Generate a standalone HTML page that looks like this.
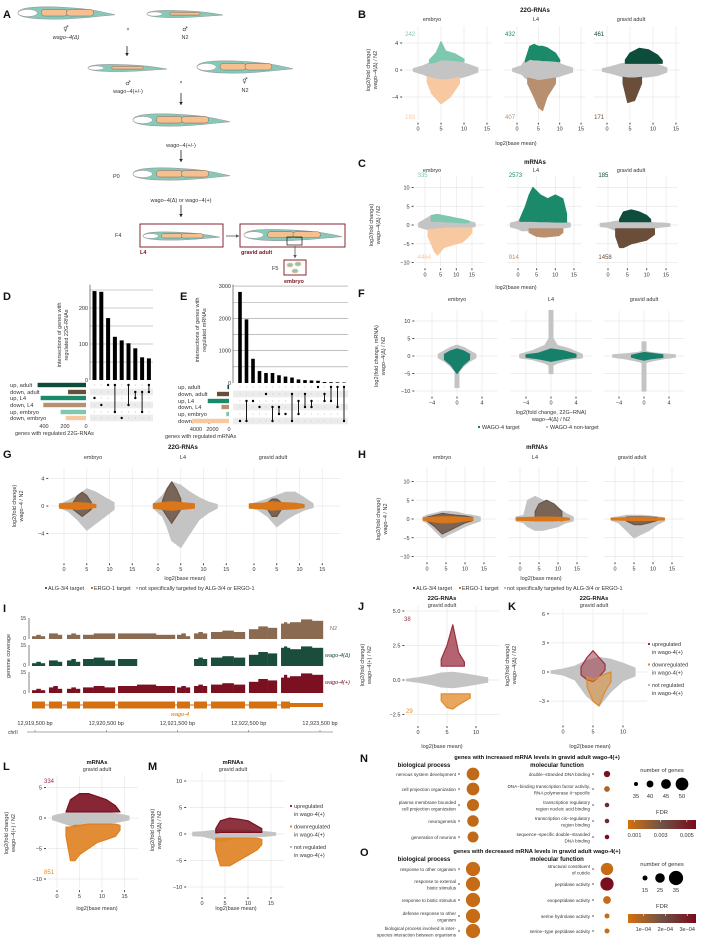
<!DOCTYPE html>
<html><head><meta charset="utf-8">
<style>
html,body{margin:0;padding:0;background:#fff;}
svg{display:block;font-family:"Liberation Sans",sans-serif;}
</style></head>
<body>
<svg id="fig" width="709" height="945" viewBox="0 0 709 945" xmlns="http://www.w3.org/2000/svg">
<rect x="0" y="0" width="709" height="945" fill="#fff"/>
</svg>
<script>
// ---------------- DATA ----------------
const dBarValues = [247,245,172,120,110,102,88,63,60];
const dSetLabels = ["up, adult","down, adult","up, L4","down, L4","up, embryo","down, embryo"];
const dSetSizes = [461,171,432,407,242,193];
const dCombos = [[2],[3],[0],[0,4],[5],[0,3],[1,2],[1,4],[0,1]];
const dYTicks = [0,100,200];
const eBarValues = [2820,1970,750,370,310,310,240,200,170,110,90,80,70,30,25,20,15];
const eSetSizes = [185,1458,2573,914,335,4464];
const eCombos = [[5],[2,5],[2],[3],[1],[3,5],[3,4],[4],[1,5],[2,4],[1,3],[2,3],[0],[1,2],[0,2],[0,3],[0,5]];
const eYTicks = [0,1000,2000,3000];
const setColors = ["#0e4d3c","#6b4e3a","#1a8a6a","#b89070","#7fc8b0","#f8c8a0"];

const maXTicks = [0,5,10,15];
const bYTicks = [-4,0,4];
const cYTicks = [-10,-5,0,5,10];
const fXTicks = [-4,0,4];
const bCounts = [["242","193"],["432","407"],["461","171"]];
const cCounts = [["335","4464"],["2573","914"],["185","1458"]];

const bLayers = [
 {gray:{xs:[-1,1,3,5,7,9,11,13],hi:[0.2,0.6,1.2,1.6,1.5,1.2,0.8,0.3],lo:[-0.2,-0.6,-1.2,-1.6,-1.5,-1.2,-0.8,-0.3]},
  up:{xs:[2.5,4,5,6,8,10],hi:[1.5,2.6,4.2,2.8,2.4,1.6],lo:[1,1.2,1.5,1.5,1.4,1.2]},
  down:{xs:[2,3,5,7,9],hi:[-1,-1.2,-1.5,-1.4,-1.1],lo:[-1.8,-3.5,-5,-4,-2]}},
 {gray:{xs:[-1,1,2,3,5,7,9,11,13],hi:[0.2,0.6,1.5,2.5,1.8,1.5,1.2,0.7,0.3],lo:[-0.2,-0.6,-1.2,-1.5,-1.6,-1.5,-1.1,-0.7,-0.3]},
  up:{xs:[2,3,4,5,6,7,9,10],hi:[1.5,3.5,3.8,3.5,3.5,3.3,2.5,1.5],lo:[1.2,1.6,1.5,1.5,1.4,1.4,1.3,1.2]},
  down:{xs:[2.5,4,5,6,7,9],hi:[-1.2,-1.4,-1.6,-1.5,-1.4,-1.2],lo:[-2,-4,-5.5,-6,-4,-2]}},
 {gray:{xs:[-1,1,3,5,7,9,11,13],hi:[0.2,0.5,0.9,1.1,1.1,1,0.8,0.3],lo:[-0.2,-0.5,-0.9,-1.1,-1.1,-1,-0.8,-0.3]},
  up:{xs:[4,5,7,9,11,12],hi:[1.5,2.5,3.2,3,2.2,1.4],lo:[1,1,1,1,1,1]},
  down:{xs:[3.5,4.5,6,7.5],hi:[-1.1,-1.2,-1.2,-1.1],lo:[-2,-4.8,-4.5,-2]}}
];
const cLayers = [
 {gray:{xs:[-2,0,2,4,6,8,10,12,14,16],hi:[0.5,1.5,2.5,2.8,2.5,2.2,1.8,1.5,1,0.5],lo:[-0.5,-1,-1.5,-1.2,-1,-1,-1,-0.8,-0.6,-0.4]},
  up:{xs:[2,4,6,8,10,12,14],hi:[2.5,2.8,2.4,2.1,1.8,1.5,1.1],lo:[1,1,0.9,0.8,0.7,0.6,0.6]},
  down:{xs:[1,2,3,4,6,8,10,12,14,15],hi:[-1.2,-1.3,-1.2,-1,-0.9,-0.8,-0.8,-0.8,-0.8,-0.8],lo:[-3,-5,-7,-8,-6,-5.5,-5,-4.5,-3,-2]}},
 {gray:{xs:[-2,0,1,2,4,6,8,10,12,14],hi:[0.5,1,2,4,3,1.5,1.2,1,0.8,0.5],lo:[-0.5,-1,-1.5,-1.5,-1.5,-1.3,-1,-1,-0.8,-0.5]},
  up:{xs:[0.5,2,3,4,6,8,10,12,13],hi:[1.5,5,8,10,8,7,8,7,3],lo:[1,1,1,1,0.9,0.9,0.8,0.8,0.8]},
  down:{xs:[3,5,7,9,11,12],hi:[-1,-1,-1,-1,-1,-1],lo:[-2,-3,-3.2,-3,-2.8,-2]}},
 {gray:{xs:[-2,0,2,4,6,8,10,12,14,16],hi:[0.4,0.6,1,1.2,1,0.9,0.8,0.6,0.5,0.3],lo:[-0.4,-0.6,-1.5,-2,-1.5,-1.2,-1,-0.8,-0.5,-0.3]},
  up:{xs:[3,4,6,8,10,11],hi:[1.5,3.5,4,3.5,2.5,1.5],lo:[0.9,0.9,0.9,0.9,0.9,0.9]},
  down:{xs:[2,3,4,6,8,10,12],hi:[-1,-1,-1,-1,-1,-1,-1],lo:[-3,-6,-6,-5,-4.5,-4,-2.5]}}
];
const fLayers = [
 {h:{xs:[-3,-2,-1,0,1,2,3],hi:[0.5,1.5,2.5,3,2.5,1.5,0.5],lo:[-0.5,-1.5,-3,-5,-3,-1.5,-0.5]},
  v:{xs:[-0.3,0.3],hi:[3,3],lo:[-9,-9]},
  g:{xs:[-2,-1,0,1,2],hi:[0.5,1.5,2,1.5,0.5],lo:[-1,-2.5,-5,-2.5,-1]}},
 {h:{xs:[-5,-3,-1,0,1,3,5],hi:[0.5,1.5,3,6,3,2,0.5],lo:[-0.5,-1,-2,-3,-2,-1,-0.5]},
  v:{xs:[-0.3,0.3],hi:[13,13],lo:[-5,-5]},
  g:{xs:[-4,-2,0,2,4],hi:[0.3,0.8,2,1.5,0.5],lo:[-0.3,-0.8,-1.5,-0.8,-0.3]}},
 {h:{xs:[-5,-3,-1,0,1,3,5],hi:[0.3,0.6,1,1.5,1,0.6,0.3],lo:[-0.3,-0.8,-1.5,-2,-1.5,-0.8,-0.3]},
  v:{xs:[-0.3,0.3],hi:[4,4],lo:[-10,-10]},
  g:{xs:[-2,-1,0,1,3],hi:[0.2,0.6,1,0.8,0.3],lo:[-0.3,-0.8,-1.2,-0.8,-0.4]}}
];
const gLayers = [
 {gray:{xs:[-1,1,3,5,7,9,11],hi:[0.2,0.8,1.5,2.5,2,1.2,0.5],lo:[-0.2,-0.8,-2,-3.5,-2.5,-1.5,-0.5]},
  alg:{xs:[2,3,4,5,6],hi:[0.5,1.5,2,1.5,0.5],lo:[-0.5,-1,-1.5,-1,-0.5]},
  ergo:{xs:[-1,1,3,5,7],hi:[0.3,0.4,0.5,0.4,0.2],lo:[-0.3,-0.4,-0.5,-0.4,-0.2]}},
 {gray:{xs:[-1,1,2,3,5,7,9,11,13],hi:[0.3,1.5,2.5,3.5,3,2,1.2,0.6,0.2],lo:[-0.3,-1.5,-3,-5,-6,-4,-2,-1,-0.3]},
  alg:{xs:[1,2,3,4,5],hi:[0.8,2.5,3.5,2.5,1],lo:[-0.5,-1.5,-2.5,-1.5,-0.5]},
  ergo:{xs:[-1,1,3,5,8],hi:[0.3,0.5,0.6,0.5,0.3],lo:[-0.3,-0.5,-0.6,-0.5,-0.3]}},
 {gray:{xs:[-1,1,3,5,7,9,11,13],hi:[0.2,0.6,1,1.5,2,2,1.2,0.3],lo:[-0.2,-0.6,-1.5,-3,-2,-1.2,-0.6,-0.2]},
  alg:{xs:[3,4,5,6],hi:[0.5,1,1,0.5],lo:[-0.5,-1.5,-1.5,-0.5]},
  ergo:{xs:[-1,2,4,6,9,11],hi:[0.3,0.4,0.6,0.5,0.4,0.2],lo:[-0.3,-0.4,-0.6,-0.5,-0.4,-0.2]}}
];
const hLayers = [
 {gray:{xs:[-1,0,2,4,6,8,10,12,14],hi:[0.5,1,1.5,2,2,1.8,1.2,1,0.5],lo:[-0.5,-1,-3,-5,-4,-3,-2,-1.2,-0.5]},
  alg:{xs:[0,2,4,6,8,10,12],hi:[0.5,1,1.5,1.2,1,0.8,0.4],lo:[-0.5,-2,-4,-3,-2,-1,-0.4]},
  ergo:{xs:[-1,2,4,6,8,10,12],hi:[0.3,0.5,0.6,0.6,0.5,0.4,0.3],lo:[-0.3,-0.8,-1,-1,-0.8,-0.5,-0.3]}},
 {gray:{xs:[-1,1,2,4,6,8,10,12,14],hi:[0.5,1,5,6,5,4,3,1.5,0.5],lo:[-0.5,-1,-2,-3,-3,-2.5,-2,-1,-0.5]},
  alg:{xs:[4,5,7,9,11],hi:[2,4,5,4,2],lo:[-0.5,0,0.5,0,-0.5]},
  ergo:{xs:[-1,2,5,8,11,13],hi:[0.3,0.4,0.5,0.5,0.4,0.2],lo:[-0.3,-0.4,-0.5,-0.5,-0.4,-0.2]}},
 {gray:{xs:[-1,1,3,5,7,9,11,13],hi:[0.3,0.6,1,1,1,0.8,0.6,0.3],lo:[-0.3,-1,-3,-5,-4,-3,-1.5,-0.5]},
  alg:{xs:[3,5,7,9,11],hi:[0.5,0.6,0.6,0.5,0.4],lo:[-0.5,-1.5,-1.5,-1,-0.4]},
  ergo:{xs:[-1,2,5,8,11,13],hi:[0.2,0.3,0.4,0.4,0.3,0.2],lo:[-0.2,-0.3,-0.4,-0.4,-0.3,-0.2]}}
];
const jLayers = {gray:{xs:[-2,0,2,4,6,8,10,12],hi:[0.05,0.15,0.3,0.5,0.55,0.45,0.3,0.15],lo:[-0.05,-0.15,-0.3,-0.5,-0.55,-0.45,-0.3,-0.15]},
  up:{xs:[4,5,6,7,8],hi:[1.5,2.5,4,2,1.3],lo:[1,1,1,1,1]},
  down:{xs:[4,5,6,7,9],hi:[-1,-1,-1,-1,-1],lo:[-1.5,-2,-2.1,-1.8,-1.3]}};
const kLayers = {gray:{xs:[-2,0,2,4,6,8,10,12],hi:[0.1,0.3,0.6,1.2,1.5,1.3,0.9,0.4],lo:[-0.1,-0.3,-0.8,-2.5,-3.5,-2,-0.9,-0.4]},
  up:{xs:[3,4,5,6,7],hi:[0.5,1.5,2.2,1.5,0.8],lo:[-0.3,-0.8,-1,-0.5,0.2]},
  down:{xs:[4,5,6,7,8],hi:[-0.5,-0.8,-0.5,-0.2,0],lo:[-1.5,-3,-3.5,-2,-1]}};
const lLayers = {gray:{xs:[-1,0,2,4,6,8,10,12,14,16],hi:[0.3,0.5,0.8,1,1,1,0.9,0.8,0.6,0.3],lo:[-0.3,-0.5,-1,-1.5,-1.2,-1,-0.9,-0.8,-0.6,-0.3]},
  up:{xs:[2,3,5,7,9,11,13,14],hi:[1,3,4,4,3.5,3,2,1],lo:[1,1,1,1,1,1,1,1]},
  down:{xs:[2,3,4,5,7,9,11,13,14],hi:[-1.5,-1.5,-1.2,-1.2,-1,-1,-1,-1,-1.2],lo:[-3,-7,-7,-6,-5,-4,-3.5,-3,-2]}};
const mLayers = {gray:{xs:[-2,0,2,4,6,8,10,12,14,16],hi:[0.3,0.4,0.6,0.8,0.8,0.8,0.7,0.5,0.4,0.2],lo:[-0.3,-0.4,-0.8,-1.5,-1,-0.8,-0.7,-0.5,-0.4,-0.2]},
  up:{xs:[3,4,6,8,10,12,13],hi:[1,2.5,3,2.8,2.5,1.5,1],lo:[0.2,0.3,0.3,0.3,0.3,0.3,0.3]},
  down:{xs:[3,4,6,8,10,12,13],hi:[-0.8,-0.8,-0.8,-0.8,-0.8,-0.8,-1],lo:[-3,-6,-6,-5,-4,-3,-2]}};

// genome track (bp)
const exonStarts = [12919458,12919696,12919949,12920174,12920665,12921493,12921732,12921970,12922503,12922953];
const exonEnds   = [12919640,12919879,12920132,12920623,12921465,12921675,12921914,12922447,12922896,12923079];
const utrEnd = 12923542;
const covN2    = [[2,3,2],[4,4,3],[3,4,3],[3,4,4],[4,4,3],[3,4,2],[4,5,4],[5,6,5],[7,9,8],[11,12,11]];
const covDelta = [[2,3,2],[4,4,3],[4,5,3],[5,6,4],[5,0,0],[0,0,0],[5,6,5],[6,7,6],[8,10,9],[13,14,13]];
const covPlus  = [[2,3,2],[4,5,3],[3,4,3],[4,5,4],[5,6,5],[4,5,4],[5,6,5],[6,7,6],[8,10,9],[11,13,11]];
const utrCov = [12,14,13];
const bpTicks = [12919500,12920500,12921500,12922500,12923500];

// GO enrichment
const nBPTerms = ["nervous system development","cell projection organization","plasma membrane bounded|cell projection organization","neurogenesis","generation of neurons"];
const nBPGenes = [50,50,49,48,47];
const nBPFdr = [0.001,0.001,0.001,0.001,0.001];
const nMFTerms = ["double−stranded DNA binding","DNA−binding transcription factor activity,|RNA polymerase II−specific","transcription regulatory|region nucleic acid binding","transcription cis−regulatory|region binding","sequence−specific double−stranded|DNA binding"];
const nMFGenes = [39,38,36,36,36];
const nMFFdr = [0.0055,0.0015,0.0045,0.0045,0.0055];
const oBPTerms = ["response to other organism","response to external|biotic stimulus","response to biotic stimulus","defense response to other|organism","biological process involved in inter-|species interaction between organisms"];
const oBPGenes = [35,35,35,35,35];
const oBPFdr = [0.00005,0.00005,0.00005,0.00005,0.00005];
const oMFTerms = ["structural constituent|of cuticle","peptidase activity","exopeptidase activity","serine hydrolase activity","serine−type peptidase activity"];
const oMFGenes = [31,33,21,15,15];
const oMFFdr = [0.00005,0.00033,0.00005,0.00005,0.00005];

// ---------------- HELPERS ----------------
const NS='http://www.w3.org/2000/svg';
const svg=document.getElementById('fig');
function mk(tag,attrs,parent){const e=document.createElementNS(NS,tag);for(const k in attrs)e.setAttribute(k,attrs[k]);(parent||svg).appendChild(e);return e;}
function grp(name,parent){const g=mk('g',{},parent);
 
 
 return g;}
function txt(x,y,s,o,parent,name){o=o||{};
 const e=mk('text',{x:x,y:y,'font-size':o.size||5.5,'text-anchor':o.anchor||'start',fill:o.fill||'#333'},parent);
 if(o.weight)e.setAttribute('font-weight',o.weight);
 if(o.italic)e.setAttribute('font-style','italic');
 if(o.family)e.setAttribute('font-family',o.family);
 if(o.rot)e.setAttribute('transform','rotate('+o.rot+' '+x+' '+y+')');
 e.textContent=s;
 
 
 return e;}
function fmt(v){return (v<0?'−':'')+Math.abs(v);}
function panel(c,name){
 const g=grp(name);
 const X=v=>c.x0+v*c.sx, Y=v=>c.y0-v*c.sy;
 const top=Y(c.ymax),bot=Y(c.ymin),l=X(c.xmin),r=X(c.xmax);
 c.xt.forEach(t=>{const ln=mk('line',{x1:X(t),x2:X(t),y1:top,y2:bot,stroke:'#e8e8e8','stroke-width':0.7},g);
  
  });
 c.yt.forEach(t=>{const ln=mk('line',{x1:l,x2:r,y1:Y(t),y2:Y(t),stroke:'#e8e8e8','stroke-width':0.7},g);
  
  });
 c.xt.forEach(t=>{const tk=mk('line',{x1:X(t),x2:X(t),y1:bot+2,y2:bot+4,stroke:'#333','stroke-width':0.9},g);
  
  
  txt(X(t),bot+10,fmt(t),{anchor:'middle'},g,'x-tick-label');});
 if(c.ylab!==false) c.yt.forEach(t=>{const tk=mk('line',{x1:l-4,x2:l-2,y1:Y(t),y2:Y(t),stroke:'#333','stroke-width':0.9},g);
  
  
  txt(l-6,Y(t)+2,c.ylabFmt?c.ylabFmt(t):fmt(t),{anchor:'end'},g,'y-tick-label');});
 return {X,Y,g};
}
function band(p,layer,color,name,op){
 const pts=[];
 layer.xs.forEach((x,i)=>pts.push(p.X(x).toFixed(1)+','+p.Y(layer.hi[i]).toFixed(1)));
 for(let i=layer.xs.length-1;i>=0;i--)pts.push(p.X(layer.xs[i]).toFixed(1)+','+p.Y(layer.lo[i]).toFixed(1));
 const e=mk('polygon',{points:pts.join(' '),fill:color,stroke:color,'stroke-width':1.2,'stroke-linejoin':'round','fill-opacity':op||1},p.g);
 
 
 return e;}
function yTitle(x,y,lines,parent){lines.forEach((s,i)=>txt(x+i*7,y,s,{anchor:'middle',rot:-90},parent,'y-axis-title'));}

// ---------------- PANEL A ----------------
function worm(x0,x1,yc,h,male,parent){
 const w=x1-x0,g=grp('worm',parent);
 const d=`M${x0},${yc} C${x0},${yc-h*0.6} ${x0+w*0.3},${yc-h*0.55} ${x0+w*0.5},${yc-h*0.45} C${x0+w*0.75},${yc-h*0.35} ${x1-w*0.1},${yc-h*0.05} ${x1},${yc+h*0.15} C${x1-w*0.1},${yc+h*0.2} ${x0+w*0.75},${yc+h*0.4} ${x0+w*0.5},${yc+h*0.5} C${x0+w*0.3},${yc+h*0.55} ${x0},${yc+h*0.5} ${x0},${yc} Z`;
 mk('path',{d:d,fill:'#86c9b9',stroke:'#999','stroke-width':0.6},g);
 mk('ellipse',{cx:x0+w*0.1,cy:yc,rx:w*0.1,ry:h*0.3,fill:'#fff',stroke:'#999','stroke-width':0.5},g);
 if(male){mk('rect',{x:x0+w*0.3,y:yc-h*0.25,width:w*0.4,height:h*0.4,rx:2,fill:'#f5bf8f',stroke:'#555','stroke-width':0.4},g);}
 else{mk('rect',{x:x0+w*0.24,y:yc-h*0.3,width:w*0.27,height:h*0.55,rx:h*0.27,fill:'#f5bf8f',stroke:'#555','stroke-width':0.4},g);
  mk('rect',{x:x0+w*0.5,y:yc-h*0.3,width:w*0.28,height:h*0.55,rx:h*0.27,fill:'#f5bf8f',stroke:'#555','stroke-width':0.4},g);}
}
function arrow(x1,y1,x2,y2,parent,col){
 const g=grp('arrow',parent);col=col||'#222';
 mk('line',{x1:x1,y1:y1,x2:x2,y2:y2,stroke:col,'stroke-width':0.8},g);
 const a=Math.atan2(y2-y1,x2-x1),s=3;
 mk('polygon',{points:`${x2},${y2} ${x2-s*Math.cos(a)+s*0.6*Math.sin(a)},${y2-s*Math.sin(a)-s*0.6*Math.cos(a)} ${x2-s*Math.cos(a)-s*0.6*Math.sin(a)},${y2-s*Math.sin(a)+s*0.6*Math.cos(a)}`,fill:col},g);
}
(function(){
 const A=grp('panel-a-crossing-scheme');
 txt(3,18,'A',{size:11,weight:'bold',fill:'#111'},A,'panel-label');
 worm(18,115,13,12,false,A); worm(147,223,14,7,true,A);
 txt(66,31,'⚥',{size:6,anchor:'middle',family:'DejaVu Sans'},A,'sex-symbol');
 txt(66,39,'wago−4(Δ)',{anchor:'middle',italic:true},A,'genotype-label');
 txt(128,31,'×',{size:5,anchor:'middle'},A,'cross-symbol');
 txt(185,31,'♂',{size:6,anchor:'middle',family:'DejaVu Sans'},A,'sex-symbol');
 txt(185,39,'N2',{anchor:'middle'},A,'genotype-label');
 arrow(127,46,127,56,A);
 worm(88,167,68,7,true,A); worm(197,293,67,12,false,A);
 txt(128,85,'♂',{size:6,anchor:'middle',family:'DejaVu Sans'},A,'sex-symbol');
 txt(128,93,'wago−4(+/-)',{anchor:'middle'},A,'genotype-label');
 txt(181,84,'×',{size:5,anchor:'middle'},A,'cross-symbol');
 txt(245,83,'⚥',{size:6,anchor:'middle',family:'DejaVu Sans'},A,'sex-symbol');
 txt(245,92,'N2',{anchor:'middle'},A,'genotype-label');
 arrow(181,93,181,105,A);
 worm(133,230,120,12,false,A);
 txt(181,147,'wago−4(+/-)',{anchor:'middle'},A,'genotype-label');
 arrow(181,150,181,162,A);
 txt(113,178,'P0',{size:5.5},A,'generation-label');
 worm(133,230,174,12,false,A);
 txt(181,202,'wago−4(Δ) or wago−4(+)',{anchor:'middle'},A,'genotype-label');
 arrow(181,205,181,217,A);
 txt(115,237,'F4',{size:5.5},A,'generation-label');
 mk('rect',{x:140,y:224,width:83,height:23,fill:'none',stroke:'#7a1020','stroke-width':0.9},A);
 worm(143,220,236,8,false,A);
 txt(140,254,'L4',{size:5.5,weight:'bold',fill:'#7a1020'},A,'stage-label');
 arrow(226,236,239,236,A,'#555');
 mk('rect',{x:240,y:224,width:105,height:23,fill:'none',stroke:'#7a1020','stroke-width':0.9},A);
 worm(244,342,235,11,false,A);
 mk('rect',{x:287,y:237,width:15,height:8,fill:'none',stroke:'#111','stroke-width':0.7},A);
 txt(241,254,'gravid adult',{size:5.5,weight:'bold',fill:'#7a1020'},A,'stage-label');
 arrow(295,246,295,258,A,'#555');
 txt(272,270,'F5',{size:5.5},A,'generation-label');
 mk('rect',{x:284,y:260,width:22,height:15,fill:'none',stroke:'#7a1020','stroke-width':0.9},A);
 [[290,265],[298,264],[295,271]].forEach(p=>mk('ellipse',{cx:p[0],cy:p[1],rx:3,ry:2,fill:'#86c9b9',stroke:'#f5bf8f','stroke-width':0.8},A));
 txt(284,283,'embryo',{size:5.5,weight:'bold',fill:'#7a1020'},A,'stage-label');
})();

// ---------------- PANEL B & C ----------------
const stageNames=['embryo','L4','gravid adult'];
const upCols=['#7fc8b0','#1a8a6a','#0e4d3c'], downCols=['#f8c8a0','#b89070','#6b4e3a'];
(function(){
 txt(358,18,'B',{size:11,weight:'bold',fill:'#111'},null,'panel-label');
 txt(535,12,'22G-RNAs',{size:6,weight:'bold',anchor:'middle',fill:'#111'},null,'panel-title');
 const bx=[[418,4.6],[517,4.27],[607,4.6]], subX=[432,536,631];
 bx.forEach((b,i)=>{
  const p=panel({x0:b[0],sx:b[1],y0:70,sy:6.75,xmin:-3,xmax:16,ymin:-7.5,ymax:6.5,xt:maXTicks,yt:bYTicks,ylab:i===0},'b-'+stageNames[i]);
  band(p,bLayers[i].gray,'#c4c4c4','gray-cloud');
  band(p,bLayers[i].up,upCols[i],'up-cloud');
  band(p,bLayers[i].down,downCols[i],'down-cloud');
  txt(subX[i],21,stageNames[i],{anchor:'middle'},p.g,'facet-title');
  txt(p.X(-2.8),36,bCounts[i][0],{size:6,fill:upCols[i]},p.g,'up-count');
  txt(p.X(-2.8),119,bCounts[i][1],{size:6,fill:downCols[i]},p.g,'down-count');
 });
 txt(516,145,'log2(base mean)',{anchor:'middle'},null,'x-axis-title');
 yTitle(370,70,['log2(fold change)','wago−4(Δ) / N2']);

 txt(358,167,'C',{size:11,weight:'bold',fill:'#111'},null,'panel-label');
 txt(535,164,'mRNAs',{size:6,weight:'bold',anchor:'middle',fill:'#111'},null,'panel-title');
 const cx=[[425,3.13,19],[518,3.73,17],[608,3.87,18]];
 cx.forEach((b,i)=>{
  const p=panel({x0:b[0],sx:b[1],y0:225,sy:3.75,xmin:-3,xmax:b[2],ymin:-11,ymax:13,xt:maXTicks,yt:cYTicks,ylab:i===0},'c-'+stageNames[i]);
  band(p,cLayers[i].gray,'#c4c4c4','gray-cloud');
  band(p,cLayers[i].up,upCols[i],'up-cloud');
  band(p,cLayers[i].down,downCols[i],'down-cloud');
  txt(subX[i],172,stageNames[i],{anchor:'middle'},p.g,'facet-title');
  txt(p.X(-3)+2,177,cCounts[i][0],{size:6,fill:upCols[i]},p.g,'up-count');
  txt(p.X(-3)+2,259,cCounts[i][1],{size:6,fill:downCols[i]},p.g,'down-count');
 });
 txt(516,289,'log2(base mean)',{anchor:'middle'},null,'x-axis-title');
 yTitle(373,225,['log2(fold change)','wago−4(Δ) / N2']);
})();

// ---------------- PANEL D & E (UpSet) ----------------
function upset(cfg){
 const g=grp(cfg.name);
 const Y=v=>cfg.y0-v*cfg.sy;
 cfg.grid.forEach(t=>{const ln=mk('line',{x1:cfg.ax,x2:cfg.gx,y1:Y(t),y2:Y(t),stroke:'#999','stroke-width':0.6},g);
  
  });
 mk('line',{x1:cfg.ax,x2:cfg.ax,y1:Y(cfg.ymax),y2:cfg.y0,stroke:'#333','stroke-width':0.6},g);
 cfg.ticks.forEach(t=>{txt(cfg.ax-2,Y(t)+2,String(t),{anchor:'end'},g,'y-tick-label');});
 cfg.rows.forEach((ry,i)=>{if(i%2===1){const b=mk('rect',{x:cfg.ax,y:ry-3.3,width:cfg.gx-cfg.ax,height:6.6,fill:'#ececec'},g);
   
   }
  txt(cfg.lx,ry+2,dSetLabels[i],{size:5.8},g,'set-label');
  const w=cfg.sizes[i]*cfg.ss;
  const sb=mk('rect',{x:cfg.sx0-w,y:ry-2.2,width:w,height:4.4,fill:setColors[i]},g);
  
  
 });
 cfg.values.forEach((v,i)=>{
  const x=cfg.bx0+i*cfg.bstep;
  const b=mk('rect',{x:x-cfg.bw/2,y:Y(v),width:cfg.bw,height:cfg.y0-Y(v),fill:'#000'},g);
  
  
  cfg.rows.forEach(ry=>mk('circle',{cx:x,cy:ry,r:0.6,fill:'#ccc'},g));
  const cb=cfg.combos[i]; const ys=cb.map(k=>cfg.rows[k]);
  if(cb.length>1)mk('line',{x1:x,x2:x,y1:Math.min(...ys),y2:Math.max(...ys),stroke:'#000','stroke-width':0.9},g);
  ys.forEach(yy=>mk('circle',{cx:x,cy:yy,r:1.2,fill:'#000'},g));
 });
 cfg.sticks.forEach(t=>txt(cfg.sx0-t*cfg.ss,cfg.tickY,String(t),{anchor:'middle'},g,'set-size-tick'));
 txt(cfg.titleX,cfg.tickY+7,cfg.xtitle,{},g,'x-axis-title');
 return g;
}
txt(3,300,'D',{size:11,weight:'bold',fill:'#111'},null,'panel-label');
upset({name:'panel-d-upset-22g',y0:380,sy:0.36,ymax:265,ax:90,gx:153,grid:[50,100,150,200,250],ticks:dYTicks,
 rows:[385,392,398,405,412,418],lx:10,sizes:dSetSizes,ss:0.105,sx0:86,values:dBarValues,combos:dCombos,bx0:94.5,bstep:6.8,bw:4,
 sticks:[400,200,0],tickY:428,titleX:15,xtitle:'genes with regulated 22G-RNAs'});
yTitle(61,335,['intersections of genes with','regulated 22G-RNAs']);
txt(180,300,'E',{size:11,weight:'bold',fill:'#111'},null,'panel-label');
upset({name:'panel-e-upset-mrna',y0:383,sy:0.0323,ymax:3050,ax:233,gx:348,grid:[500,1000,1500,2000,2500,3000],ticks:eYTicks,
 rows:[387,394,401,407,414,421],lx:178,sizes:eSetSizes,ss:0.00825,sx0:229,values:eBarValues,combos:eCombos,bx0:240,bstep:6.5,bw:3.6,
 sticks:[4000,2000,0],tickY:431,titleX:165,xtitle:'genes with regulated mRNAs'});
yTitle(199,330,['intersections of genes with','regulated mRNAs']);

// ---------------- PANEL F ----------------
(function(){
 txt(358,297,'F',{size:11,weight:'bold',fill:'#111'},null,'panel-label');
 const fx=[457,551,644], subX=[457,551,644];
 fx.forEach((x0,i)=>{
  const p=panel({x0:x0,sx:6.25,y0:356,sy:3.5,xmin:-6.5,xmax:6.5,ymin:-11,ymax:13,xt:fXTicks,yt:cYTicks,ylab:i===0},'f-'+stageNames[i]);
  band(p,fLayers[i].h,'#c4c4c4','non-target-cloud');
  band(p,fLayers[i].v,'#c4c4c4','non-target-cloud');
  band(p,fLayers[i].g,'#17806a','wago4-target-cloud');
  txt(subX[i],301,stageNames[i],{anchor:'middle'},p.g,'facet-title');
 });
 txt(551,414,'log2(fold change, 22G−RNA)',{anchor:'middle'},null,'x-axis-title');
 txt(551,421,'wago−4(Δ) / N2',{anchor:'middle'},null,'x-axis-title');
 const lg=grp('f-legend');
 mk('rect',{x:478,y:426,width:2,height:2,fill:'#17806a'},lg);
 txt(482,429,'WAGO-4 target',{},lg,'legend-entry');
 mk('rect',{x:546,y:426,width:2,height:2,fill:'#bbb'},lg);
 txt(550,429,'WAGO-4 non-target',{},lg,'legend-entry');
 yTitle(378,356,['log2(fold change, mRNA)','wago−4(Δ) / N2']);
})();

// ---------------- PANEL G & H ----------------
function legendGH(x,y,name){
 const lg=grp(name);
 mk('rect',{x:x,y:y-3,width:2,height:2,fill:'#6b5545'},lg);
 txt(x+3,y,'ALG-3/4 target',{},lg,'legend-entry');
 mk('rect',{x:x+46,y:y-3,width:2,height:2,fill:'#d9771a'},lg);
 txt(x+49,y,'ERGO-1 target',{},lg,'legend-entry');
 mk('rect',{x:x+91,y:y-3,width:2,height:2,fill:'#bbb'},lg);
 txt(x+94,y,'not specifically targeted by ALG-3/4 or ERGO-1',{},lg,'legend-entry');
}
(function(){
 txt(3,458,'G',{size:11,weight:'bold',fill:'#111'},null,'panel-label');
 txt(183,449,'22G-RNAs',{size:6,weight:'bold',anchor:'middle',fill:'#111'},null,'panel-title');
 const gx=[64,158,254], subX=[93,183,273];
 gx.forEach((x0,i)=>{
  const p=panel({x0:x0,sx:4.55,y0:506,sy:6.9,xmin:-3,xmax:19,ymin:-8,ymax:5.5,xt:maXTicks,yt:bYTicks,ylab:i===0},'g-'+stageNames[i]);
  band(p,gLayers[i].gray,'#c4c4c4','not-targeted-cloud');
  band(p,gLayers[i].alg,'#6b5545','alg34-target-cloud',0.85);
  band(p,gLayers[i].ergo,'#d9771a','ergo1-target-cloud');
  txt(subX[i],459,stageNames[i],{anchor:'middle'},p.g,'facet-title');
 });
 txt(185,580,'log2(base mean)',{anchor:'middle'},null,'x-axis-title');
 legendGH(45,590,'g-legend');
 yTitle(16,506,['log2(fold change)','wago−4 / N2']);

 txt(358,458,'H',{size:11,weight:'bold',fill:'#111'},null,'panel-label');
 txt(537,449,'mRNAs',{size:6,weight:'bold',anchor:'middle',fill:'#111'},null,'panel-title');
 const hx=[427,520,615], hsub=[442,535,632];
 hx.forEach((x0,i)=>{
  const p=panel({x0:x0,sx:3.8,y0:519,sy:3.75,xmin:-3,xmax:18,ymin:-11,ymax:14,xt:maXTicks,yt:cYTicks,ylab:i===0},'h-'+stageNames[i]);
  band(p,hLayers[i].gray,'#c4c4c4','not-targeted-cloud');
  band(p,hLayers[i].alg,'#6b5545','alg34-target-cloud',0.85);
  band(p,hLayers[i].ergo,'#d9771a','ergo1-target-cloud');
  txt(hsub[i],459,stageNames[i],{anchor:'middle'},p.g,'facet-title');
 });
 txt(541,580,'log2(base mean)',{anchor:'middle'},null,'x-axis-title');
 legendGH(413,590,'h-legend');
 yTitle(380,519,['log2(fold change)','wago−4 / N2']);
})();

// ---------------- PANEL I ----------------
(function(){
 const I=grp('panel-i-coverage');
 txt(3,612,'I',{size:11,weight:'bold',fill:'#111'},I,'panel-label');
 const X=bp=>35+(bp-12919500)*0.07125;
 const tracks=[{cov:covN2,base:639,col:'#8a6a50',label:'N2',lx:330,ly:630},
               {cov:covDelta,base:666,col:'#1a4d3c',label:'wago-4(Δ)',lx:325,ly:657},
               {cov:covPlus,base:693,col:'#7a1020',label:'wago-4(+)',lx:325,ly:684}];
 const sc=21/15;
 tracks.forEach(t=>{
  const g=grp('coverage-track-'+t.label,I);
  mk('line',{x1:29,x2:29,y1:t.base-21,y2:t.base,stroke:'#333','stroke-width':0.6},g);
  txt(26,t.base-19,'15',{size:5,anchor:'end'},g,'y-tick-label');
  txt(26,t.base+1,'0',{size:5,anchor:'end'},g,'y-tick-label');
  const segs=exonStarts.map((s,i)=>[s,exonEnds[i],t.cov[i]]);
  segs.push([exonEnds[9],utrEnd,utrCov]);
  segs.forEach(sg=>{
   const n=sg[2].length,w=(sg[1]-sg[0])/n;
   sg[2].forEach((v,k)=>{if(v<=0)return;
    const r=mk('rect',{x:X(sg[0]+k*w),y:t.base-v*sc,width:X(sg[0]+(k+1)*w)-X(sg[0]+k*w)+0.2,height:v*sc,fill:t.col},g);
    
    });
  });
  txt(t.lx,t.ly,t.label,{size:5.5,fill:t.col,italic:t.label!=='N2'},g,'track-label');
 });
 txt(10,656,'genome coverage',{anchor:'middle',rot:-90},I,'y-axis-title');
 const gm=grp('gene-model',I);
 mk('line',{x1:X(exonStarts[0]),x2:X(utrEnd),y1:705,y2:705,stroke:'#d4700f','stroke-width':1},gm);
 exonStarts.forEach((s,i)=>{const r=mk('rect',{x:X(s),y:701.5,width:X(exonEnds[i])-X(s),height:7,fill:'#d4700f'},gm);
  
  });
 mk('rect',{x:X(exonEnds[9]),y:703,width:X(utrEnd)-X(exonEnds[9]),height:4,fill:'#d4700f'},gm);
 txt(180,716,'wago-4',{size:5.5,anchor:'middle',italic:true,fill:'#d4700f'},gm,'gene-label');
 const ax=grp('genome-axis',I);
 mk('line',{x1:27,x2:333,y1:732,y2:732,stroke:'#555','stroke-width':0.6},ax);
 bpTicks.forEach(b=>{mk('line',{x1:X(b),x2:X(b),y1:730,y2:732,stroke:'#555','stroke-width':0.5},ax);
  txt(X(b),725,b.toLocaleString('en-US')+' bp',{size:5.5,anchor:'middle'},ax,'bp-tick-label');});
 txt(8,734,'chrII',{size:5},ax,'chromosome-label');
})();

// ---------------- PANELS J, K, L, M ----------------
(function(){
 const red='#9b3040', org='#e08a2a';
 txt(358,610,'J',{size:11,weight:'bold',fill:'#111'},null,'panel-label');
 txt(442,600,'22G-RNAs',{size:5.8,weight:'bold',anchor:'middle',fill:'#111'},null,'panel-title');
 txt(442,607,'gravid adult',{anchor:'middle'},null,'panel-subtitle');
 let p=panel({x0:418,sx:5.8,y0:680,sy:13.8,xmin:-2,xmax:14,ymin:-3.2,ymax:5.4,xt:[0,5,10],yt:[-2.5,0,2.5,5],ylabFmt:v=>(v<0?'−':'')+Math.abs(v).toFixed(1)},'j-22g-gravid-adult');
 band(p,jLayers.gray,'#c4c4c4','not-regulated-cloud');
 band(p,jLayers.up,red,'upregulated-cloud',0.75);
 band(p,jLayers.down,org,'downregulated-cloud',0.75);
 txt(404,621,'38',{size:6,fill:red},p.g,'up-count');
 txt(406,713,'29',{size:6,fill:org},p.g,'down-count');
 txt(442,748,'log2(base mean)',{anchor:'middle'},null,'x-axis-title');
 yTitle(364,665,['log2(fold change)','wago−4(+) / N2']);

 txt(508,610,'K',{size:11,weight:'bold',fill:'#111'},null,'panel-label');
 txt(594,600,'22G-RNAs',{size:5.8,weight:'bold',anchor:'middle',fill:'#111'},null,'panel-title');
 txt(594,607,'gravid adult',{anchor:'middle'},null,'panel-subtitle');
 p=panel({x0:563,sx:6,y0:672,sy:9.7,xmin:-2,xmax:14,ymin:-5.3,ymax:6.5,xt:[0,5,10],yt:[-3,0,3,6]},'k-22g-gravid-adult');
 band(p,kLayers.gray,'#c4c4c4','not-regulated-cloud');
 band(p,kLayers.up,red,'upregulated-cloud',0.5);
 band(p,kLayers.down,org,'downregulated-cloud',0.5);
 txt(590,748,'log2(base mean)',{anchor:'middle'},null,'x-axis-title');
 yTitle(509,665,['log2(fold change)','wago−4(Δ) / N2']);
 function lgd(x,y,name){const g=grp(name);
  [['upregulated',red],['downregulated',org],['not regulated','#bbb']].forEach((e,i)=>{
   mk('rect',{x:x,y:y+i*20.5-3,width:2,height:2,fill:e[1]},g);
   txt(x+4,y+i*20.5,e[0],{size:5.5},g,'legend-entry');
   txt(x+4,y+i*20.5+8,'in wago-4(+)',{size:5.5},g,'legend-entry');});}
 lgd(648,646,'k-legend');

 txt(3,770,'L',{size:11,weight:'bold',fill:'#111'},null,'panel-label');
 txt(97,764,'mRNAs',{size:5.8,weight:'bold',anchor:'middle',fill:'#111'},null,'panel-title');
 txt(97,771,'gravid adult',{anchor:'middle'},null,'panel-subtitle');
 p=panel({x0:57,sx:4.5,y0:818,sy:6.1,xmin:-2,xmax:18,ymin:-11.5,ymax:7,xt:maXTicks,yt:[-10,-5,0,5]},'l-mrna-gravid-adult');
 band(p,lLayers.gray,'#c4c4c4','not-regulated-cloud');
 band(p,lLayers.up,'#7a0f1f','upregulated-cloud',0.9);
 band(p,lLayers.down,'#e08020','downregulated-cloud',0.9);
 txt(44,783,'334',{size:6,fill:red},p.g,'up-count');
 txt(44,874,'851',{size:6,fill:org},p.g,'down-count');
 txt(97,910,'log2(base mean)',{anchor:'middle'},null,'x-axis-title');
 yTitle(8,833,['log2(fold change)','wago−4(+) / N2']);

 txt(148,770,'M',{size:11,weight:'bold',fill:'#111'},null,'panel-label');
 txt(233,764,'mRNAs',{size:5.8,weight:'bold',anchor:'middle',fill:'#111'},null,'panel-title');
 txt(233,771,'gravid adult',{anchor:'middle'},null,'panel-subtitle');
 p=panel({x0:202,sx:4.6,y0:834,sy:5.3,xmin:-3,xmax:18,ymin:-11.5,ymax:11.5,xt:maXTicks,yt:cYTicks},'m-mrna-gravid-adult');
 band(p,mLayers.gray,'#c4c4c4','not-regulated-cloud');
 band(p,mLayers.up,'#7a0f1f','upregulated-cloud',0.85);
 band(p,mLayers.down,'#e08020','downregulated-cloud',0.9);
 txt(236,910,'log2(base mean)',{anchor:'middle'},null,'x-axis-title');
 yTitle(154,830,['log2(fold change)','wago−4(Δ) / N2']);
 lgd(290,808,'m-legend');
})();

// ---------------- PANELS N, O (GO) ----------------
function lerpCol(a,b,t){const pa=[1,3,5].map(i=>parseInt(a.substr(i,2),16)),pb=[1,3,5].map(i=>parseInt(b.substr(i,2),16));
 return 'rgb('+pa.map((v,i)=>Math.round(v+(pb[i]-v)*t)).join(',')+')';}
function fdrCol(f,lo,hi){const t=Math.max(0,Math.min(1,(f-lo)/(hi-lo)));
 return t<0.5?lerpCol('#d4700f','#6e5245',t*2):lerpCol('#6e5245','#7a0a1a',(t-0.5)*2);}
function goPanel(cfg){
 const g=grp(cfg.name);
 txt(360,cfg.titleY+3,cfg.letter,{size:11,weight:'bold',fill:'#111'},g,'panel-label');
 txt(537,cfg.titleY,cfg.title,{size:5.8,weight:'bold',anchor:'middle',fill:'#111'},g,'panel-title');
 txt(424,cfg.titleY+8,'biological process',{size:6,weight:'bold',anchor:'middle',fill:'#111'},g,'column-title');
 txt(557,cfg.titleY+8,'molecular function',{size:6,weight:'bold',anchor:'middle',fill:'#111'},g,'column-title');
 function col(terms,genes,fdr,lx,dx,name){
  terms.forEach((t,i)=>{const y=cfg.rows[i];const parts=t.split('|');
   parts.forEach((s,k)=>txt(lx,y+2+(k-(parts.length-1)/2)*6.5,s,{size:4.6,anchor:'end'},g,'go-term-label'));
   mk('line',{x1:lx+2,x2:lx+4,y1:y,y2:y,stroke:'#333','stroke-width':0.8},g);
   const c=mk('circle',{cx:dx,cy:y,r:cfg.rad(genes[i]),fill:fdrCol(fdr[i],cfg.flo,cfg.fhi)},g);
   
   });
 }
 col(cfg.bpT,cfg.bpG,cfg.bpF,456,473,'bp-dot');
 col(cfg.mfT,cfg.mfG,cfg.mfF,590,607,'mf-dot');
 txt(662,cfg.legY,'number of genes',{size:5.8,anchor:'middle'},g,'legend-title');
 cfg.legVals.forEach((v,i)=>{const x=cfg.legX[i];
  mk('circle',{cx:x,cy:cfg.legY+12,r:cfg.rad(v),fill:'#000'},g);
  txt(x,cfg.legY+26,String(v),{size:5.8,anchor:'middle'},g,'legend-size-label');});
 txt(662,cfg.legY+42,'FDR',{size:5.8,anchor:'middle'},g,'legend-title');
 const gid='grad'+cfg.letter;
 const defs=mk('defs',{},g);const lg=mk('linearGradient',{id:gid,x1:0,x2:1,y1:0,y2:0},defs);
 mk('stop',{offset:'0','stop-color':'#d4700f'},lg);mk('stop',{offset:'0.5','stop-color':'#6e5245'},lg);mk('stop',{offset:'1','stop-color':'#7a0a1a'},lg);
 mk('rect',{x:628,y:cfg.legY+48,width:68,height:9,fill:'url(#'+gid+')'},g);
 cfg.fTicks.forEach((t,i)=>{const x=628+(t-cfg.flo)/(cfg.fhi-cfg.flo)*68;
  mk('line',{x1:x,x2:x,y1:cfg.legY+48,y2:cfg.legY+50,stroke:'#fff','stroke-width':0.6},g);
  txt(x,cfg.legY+65,cfg.fLabels[i],{size:5.5,anchor:'middle'},g,'fdr-tick-label');});
}
goPanel({name:'panel-n-go-increased',letter:'N',titleY:759,title:'genes with increased mRNA levels in gravid adult wago-4(+)',
 rows:[774,789,805,821,837],bpT:nBPTerms,bpG:nBPGenes,bpF:nBPFdr,mfT:nMFTerms,mfG:nMFGenes,mfF:nMFFdr,
 rad:g=>Math.max(1.6,2+(g-35)*0.29),flo:0.0005,fhi:0.0057,legY:772,legVals:[35,40,45,50],legX:[636,650,666,682],
 fTicks:[0.001,0.003,0.005],fLabels:['0.001','0.003','0.005']});
goPanel({name:'panel-o-go-decreased',letter:'O',titleY:853,title:'genes with decreased mRNA levels in gravid adult wago-4(+)',
 rows:[869,884,900,916,931],bpT:oBPTerms,bpG:oBPGenes,bpF:oBPFdr,mfT:oMFTerms,mfG:oMFGenes,mfF:oMFFdr,
 rad:g=>Math.max(2,2.5+(g-15)*0.23),flo:0.00003,fhi:0.00034,legY:866,legVals:[15,25,35],legX:[645,660,676],
 fTicks:[0.0001,0.0002,0.0003],fLabels:['1e−04','2e−04','3e−04']});
</script>
</body></html>
